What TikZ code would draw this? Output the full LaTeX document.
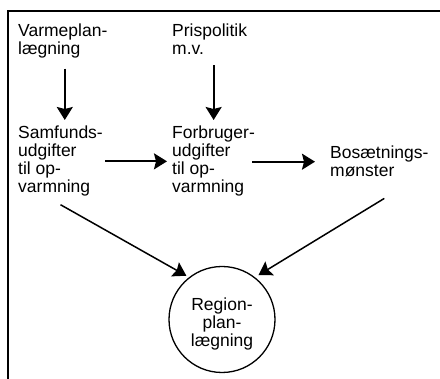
\documentclass[tikz,border=0pt]{standalone}
\usepackage{fontspec}
\setmainfont{Liberation Sans}
\usetikzlibrary{arrows.meta}
\begin{document}
\begin{tikzpicture}
  [x=1pt,y=-1pt,>={Stealth[length=13pt,width=16pt,inset=2pt]},
   every node/.style={inner sep=0pt,align=left,font=\fontsize{17.5}{18}\selectfont},
   arr/.style={->,line width=1.8pt}]
  \useasboundingbox (0,0) rectangle (440,379);
  \draw[line width=1.8pt] (8,379) -- (8,11) -- (440,11);
  \node[anchor=north west] (varme) at (18,24) {Varmeplan-\\lægning};
  \node[anchor=north west] (pris) at (172,24)  {Prispolitik\\m.v.};
  \node[anchor=north west] (samf) at (18,126)  {Samfunds-\\udgifter\\til op-\\varmning};
  \node[anchor=north west] (forb) at (172,126) {Forbruger-\\udgifter\\til op-\\varmning};
  \node[anchor=north west] (bos) at (330,146) {Bosætnings-\\mønster};
  \node[circle,draw,line width=1.3pt,minimum size=106pt] (region) at (222,319.5) {};
  \node[align=center] (regtxt) at (222,324) {Region-\\plan-\\lægning};

   \foreach \from/\to/\dx in {varme/samf/2,pris/forb/4}
    \draw[arr,shorten <=10pt,shorten >=6pt] ([xshift=\dx pt]\from.south) -- ([xshift=\dx pt]\from.south |- \to.north);
   \draw[arr,shorten <=2pt,shorten >=5pt] (samf.east) -- (forb.west |- samf.east);
   \draw[arr,shorten <=-3pt,shorten >=15pt] (forb.east |- bos.west) -- (bos.west);
   \draw[arr,line width=1.5pt,shorten >=3pt] ([yshift=-8pt]samf.south) -- (region.128);
   \draw[arr,line width=1.5pt,shorten >=4pt] ([xshift=5pt,yshift=-21pt]bos.south) -- (region.52);
    \end{tikzpicture}
\end{document}
